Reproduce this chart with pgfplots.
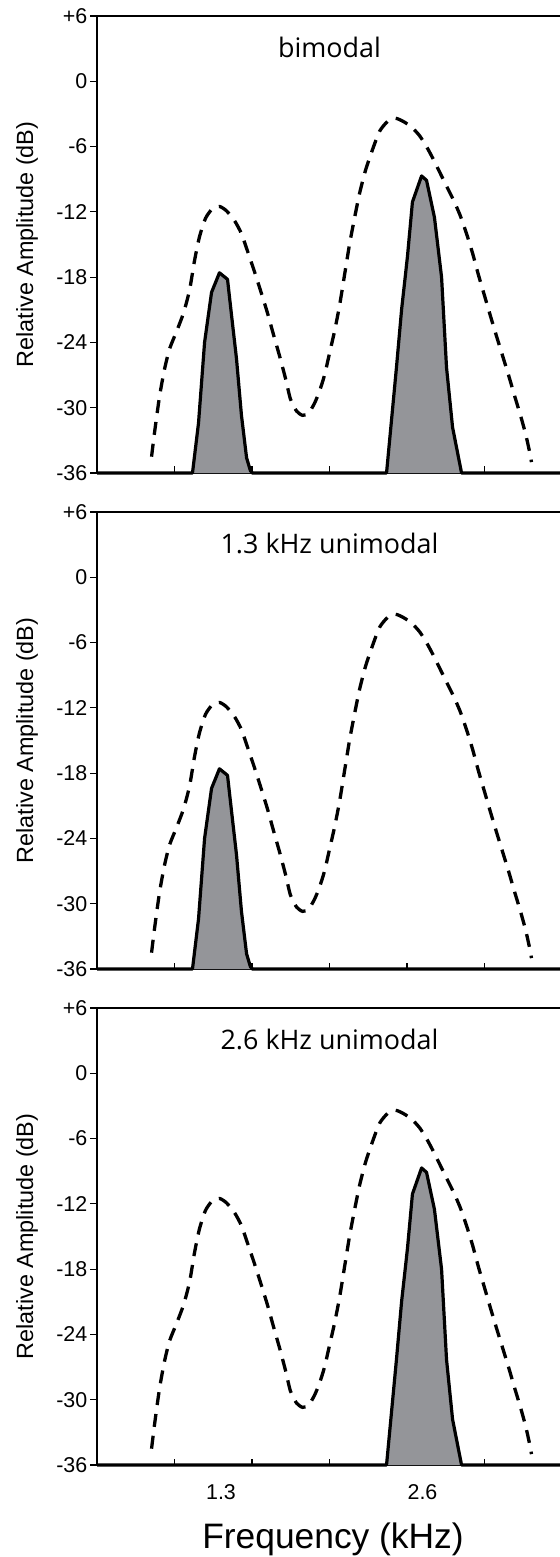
\documentclass[border=0pt]{standalone}
\usepackage{pgfplots}
\usepackage{pgfplotstable}
\pgfplotsset{compat=1.18}
\usepackage{fontspec}
\setmainfont{Liberation Sans}
\newfontfamily\titlefont{Open Sans}
\definecolor{peakgray}{RGB}{148,149,153}

\pgfplotstableread{
f db
0.852 -34.5
0.871 -32.3
0.903 -29.0
0.935 -26.5
0.968 -24.6
1.013 -23.0
1.058 -21.3
1.097 -19.2
1.129 -16.5
1.161 -14.3
1.200 -12.6
1.245 -11.7
1.290 -11.5
1.335 -11.9
1.387 -12.8
1.432 -14.0
1.471 -15.6
1.516 -17.5
1.561 -19.5
1.600 -21.3
1.639 -23.3
1.677 -25.2
1.716 -27.3
1.748 -29.2
1.787 -30.3
1.826 -30.7
1.865 -30.5
1.903 -29.6
1.935 -28.5
1.968 -27.0
2.000 -25.0
2.032 -23.0
2.065 -20.6
2.097 -17.8
2.129 -15.0
2.161 -12.6
2.194 -10.3
2.232 -8.2
2.277 -6.3
2.323 -4.6
2.374 -3.7
2.426 -3.4
2.477 -3.7
2.529 -4.2
2.581 -5.0
2.626 -6.0
2.671 -7.2
2.716 -8.5
2.761 -9.8
2.806 -11.1
2.845 -12.4
2.884 -14.0
2.923 -15.8
2.961 -17.8
3.000 -19.7
3.039 -21.6
3.077 -23.4
3.116 -25.2
3.155 -27.0
3.194 -28.9
3.232 -30.7
3.265 -32.4
3.290 -34.0
3.303 -35.0
}\envelope

\pgfplotstableread{
f db
0.5 -36
1.116 -36
1.155 -31.4
1.194 -24.0
1.239 -19.4
1.290 -17.6
1.342 -18.2
1.368 -21.5
1.400 -25.5
1.432 -30.7
1.465 -34.6
1.490 -35.8
1.503 -36
2.368 -36
2.432 -26.3
2.465 -21.0
2.503 -16.1
2.535 -11.1
2.594 -8.7
2.626 -9.1
2.677 -12.5
2.723 -18.0
2.755 -26.3
2.794 -31.8
2.852 -36
3.6 -36
}\solidBoth

\pgfplotstableread{
f db
0.5 -36
1.116 -36
1.155 -31.4
1.194 -24.0
1.239 -19.4
1.290 -17.6
1.342 -18.2
1.368 -21.5
1.400 -25.5
1.432 -30.7
1.465 -34.6
1.490 -35.8
1.503 -36
3.6 -36
}\solidLow

\pgfplotstableread{
f db
0.5 -36
2.368 -36
2.432 -26.3
2.465 -21.0
2.503 -16.1
2.535 -11.1
2.594 -8.7
2.626 -9.1
2.677 -12.5
2.723 -18.0
2.755 -26.3
2.794 -31.8
2.852 -36
3.6 -36
}\solidHigh

\tikzset{
  envline/.style={black, line width=3.3bp, dash pattern=on 13bp off 9bp, smooth, tension=0.4, line cap=butt},
  peakline/.style={draw=black, fill=peakgray, line width=3.2bp, line join=round},
  ttl/.style={font=\titlefont\fontsize{27}{30}\selectfont, anchor=base},
}

\pgfplotsset{
  panel/.style={
    scale only axis, width=465bp, height=457bp,
    xmin=0.5, xmax=3.5, ymin=-36, ymax=6,
    axis x line*=bottom, axis y line*=left,
    axis line style={line width=1.3bp, black},
    xtick={1,1.5,2,2.5,3}, xticklabels={},
    ytick={-36,-30,-24,-18,-12,-6,0,6},
    yticklabels={-36,-30,-24,-18,-12,-6,0,+6},
    xtick align=inside, ytick align=outside,
    major tick length=6.5bp,
    tick style={line width=1.2bp, black},
    yticklabel style={font=\fontsize{21.5}{24}\selectfont, inner sep=3bp},
    ylabel={Relative Amplitude (dB)},
    every axis y label/.style={at={(axis description cs:-0.1505,0.5)}, rotate=90, anchor=center, font=\fontsize{23.5}{26}\selectfont},
    clip=false,
  },
}

\begin{document}
\begin{tikzpicture}
\path[use as bounding box] (0bp,0bp) rectangle (560bp,-1557bp);

\begin{axis}[panel, at={(97bp,-16bp)}, anchor=north west]
  \addplot[envline] table[x=f,y=db] {\envelope};
  \addplot[peakline] table[x=f,y=db] {\solidBoth};
  \draw[line width=1.3bp] (rel axis cs:0,1) -- (rel axis cs:1,1);
  \node[ttl] at (rel axis cs:0.5,0.910) {bimodal};
\end{axis}

\begin{axis}[panel, at={(97bp,-512bp)}, anchor=north west]
  \addplot[envline] table[x=f,y=db] {\envelope};
  \addplot[peakline] table[x=f,y=db] {\solidLow};
  \draw[line width=1.3bp] (rel axis cs:0,1) -- (rel axis cs:1,1);
  \node[ttl] at (rel axis cs:0.5,0.910) {1.3 kHz unimodal};
\end{axis}

\begin{axis}[panel, at={(97bp,-1008bp)}, anchor=north west,
  extra x ticks={1.3,2.6}, extra x tick labels={1.3,2.6},
  extra x tick style={major tick length=0pt},
  xticklabel style={font=\fontsize{21.5}{24}\selectfont, inner sep=3bp, yshift=-16.6bp},
  xlabel={Frequency (kHz)},
  every axis x label/.style={at={(axis description cs:0.5075,-0.162)}, anchor=center, font=\fontsize{35.5}{40}\selectfont}]
  \addplot[envline] table[x=f,y=db] {\envelope};
  \addplot[peakline] table[x=f,y=db] {\solidHigh};
  \draw[line width=1.3bp] (rel axis cs:0,1) -- (rel axis cs:1,1);
  \node[ttl] at (rel axis cs:0.5,0.910) {2.6 kHz unimodal};
\end{axis}
\end{tikzpicture}
\end{document}
